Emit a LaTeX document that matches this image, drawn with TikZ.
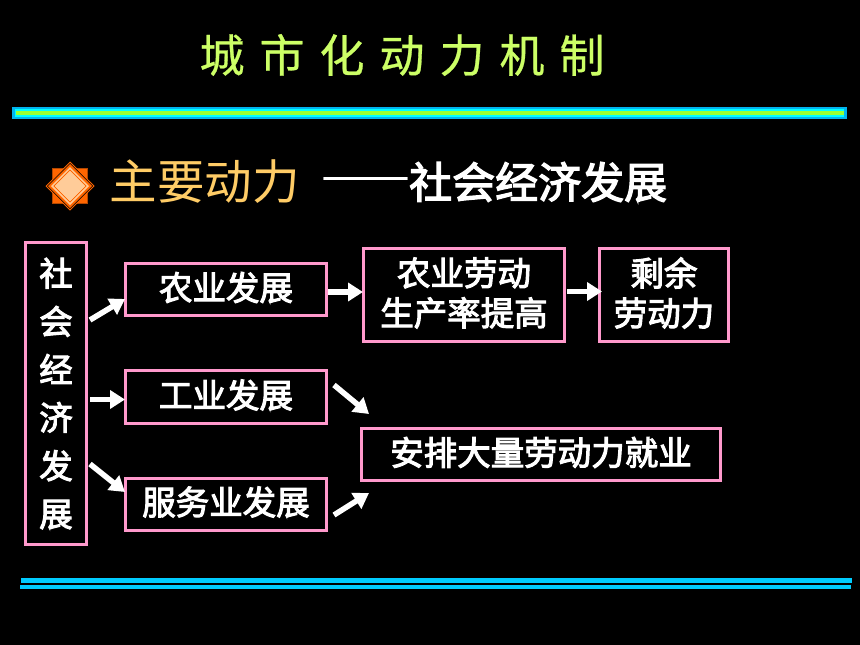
\documentclass[tikz,border=0pt]{standalone}
\usepackage{fontspec}
\setmainfont{Noto Sans CJK SC}
\newfontfamily\medcjk[FakeBold=3]{Noto Sans CJK SC}
\newfontfamily\titlecjk[FakeBold=0.6]{Noto Sans CJK SC}
\newfontfamily\dashcjk[FakeBold=0.5]{Noto Sans CJK SC}
\newcommand\liftline[1]{\raisebox{2pt}[\height][\depth]{#1}}
\usetikzlibrary{arrows.meta}
\definecolor{boxpink}{HTML}{FF99CC}
\definecolor{barblue}{HTML}{00B4F0}
\definecolor{barcyan}{HTML}{00FFFF}
\definecolor{barlime}{HTML}{99FF33}
\definecolor{linecyan}{HTML}{00CCFF}
\definecolor{titlelime}{HTML}{CCFF66}
\definecolor{headgold}{HTML}{FFCC66}
\definecolor{iconorange}{HTML}{FF6600}
\definecolor{iconpeach}{HTML}{FFCC99}
\tikzset{
  flowbox/.style={draw=boxpink,line width=3pt,fill=black,text=white,align=center,inner sep=0pt,
    font=\fontsize{33.5}{40}\selectfont\medcjk},
  blockarrow/.style={draw=white,line width=5.5pt,-{Triangle[length=15pt,width=18pt]}},
}
\begin{document}
\begin{tikzpicture}[x=1pt,y=-1pt]
\fill[black] (0,0) rectangle (860,645);
\useasboundingbox (0,0) rectangle (860,645);
% title
\node[text=titlelime,font=\fontsize{45}{45}\selectfont\titlecjk,inner sep=0pt] (title) at (402,55)
  {城\hskip15pt 市\hskip15pt 化\hskip15pt 动\hskip15pt 力\hskip15pt 机\hskip15pt 制};
% top bar
\fill[barblue] (12,107) rectangle (847,118.5);
\fill[barcyan] (15,109) rectangle (844,116.5);
\fill[barlime] (16,111) rectangle (844,115);
% bottom lines
\fill[linecyan] (21,578) rectangle (852,582.5);
\fill[linecyan] (20,584.5) rectangle (851,589);
% icon
\fill[iconorange!70!black] (52.3,168.3) rectangle (88,204);
\fill[iconorange] (53,169) rectangle (87.3,203.3);
\fill[iconorange] (70,161.5) -- (94.7,186) -- (70,210.7) -- (45.5,186) -- cycle;
\fill[black] (70,163) -- (93.2,186) -- (70,209.2) -- (47,186) -- cycle;
\fill[iconorange] (70,164) -- (92.2,186) -- (70,208.2) -- (48,186) -- cycle;
\fill[iconpeach] (70,167) -- (89,186) -- (70,205) -- (51,186) -- cycle;
\draw[iconorange,line width=.8pt] (70,170) -- (86,186) -- (70,202) -- (54,186) -- cycle;
\fill[iconpeach] (70,171) -- (85,186) -- (70,201) -- (55,186) -- cycle;
% heading
\node[anchor=west,text=headgold,font=\fontsize{47.5}{48}\selectfont,inner sep=0pt] (head) at (109.5,182) {主要动力};
\node[anchor=west,text=white,font=\fontsize{44}{44}\selectfont\dashcjk,inner sep=0pt,xscale=1.2] (dash) at (321,184) {——};
\node[anchor=west,text=white,font=\fontsize{43}{44}\selectfont\medcjk,inner sep=0pt] (sub) at (409,182) {社会经济发展};
% boxes
\node[flowbox,minimum width=61pt,minimum height=302pt,font=\fontsize{33.5}{48.1}\selectfont\medcjk] (soc) at (56,393.5) {社\\会\\经\\济\\发\\展};
\node[flowbox,minimum width=201pt,minimum height=52pt] (agri) at (226,289.5) {\liftline{农业发展}};
\node[flowbox,minimum width=201pt,minimum height=53pt] (ind) at (226,397) {\liftline{工业发展}};
\node[flowbox,minimum width=201pt,minimum height=52pt] (serv) at (226,504) {\liftline{服务业发展}};
\node[flowbox,minimum width=201pt,minimum height=93pt] (prod) at (464,295) {\liftline{农业劳动}\\\liftline{生产率提高}};
\node[flowbox,minimum width=129pt,minimum height=93pt] (surp) at (664,295) {\liftline{剩余}\\\liftline{劳动力}};
\node[flowbox,minimum width=359pt,minimum height=52pt] (jobs) at (541,454.5) {\liftline{安排大量劳动力就业}};
% arrow ends
\coordinate (a1s) at (90,320);
\coordinate (a1e) at (125,299);
\coordinate (a2s) at (90,399.5);
\coordinate (a2e) at (125,399.5);
\coordinate (a3s) at (90,464);
\coordinate (a3e) at (125,492);
\coordinate (a4s) at (328,292);
\coordinate (a4e) at (363,292);
\coordinate (a5s) at (567,291.5);
\coordinate (a5e) at (602,291.5);
\coordinate (a6s) at (334,385);
\coordinate (a6e) at (369,414);
\coordinate (a7s) at (334,515);
\coordinate (a7e) at (369,493);
\foreach \n in {1,...,7} {\draw[blockarrow] (a\n s) -- (a\n e);}
\end{tikzpicture}
\end{document}
